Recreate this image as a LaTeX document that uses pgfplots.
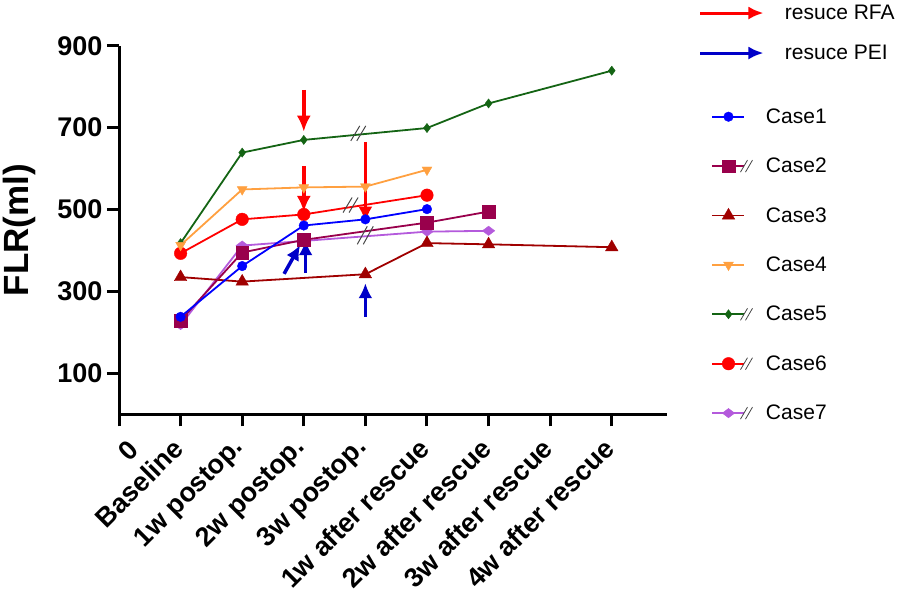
\documentclass[border=0pt]{standalone}
\usepackage{fontspec}
\setmainfont{Liberation Sans}
\usepackage{pgfplots}
\pgfplotsset{compat=1.18}
\usetikzlibrary{arrows.meta}

\definecolor{c1}{RGB}{0,0,255}
\definecolor{c2}{RGB}{153,0,76}
\definecolor{c3}{RGB}{160,0,0}
\definecolor{c4}{RGB}{255,160,64}
\definecolor{c5}{RGB}{20,100,20}
\definecolor{c6}{RGB}{255,0,0}
\definecolor{c7}{RGB}{180,90,220}
\definecolor{arrred}{RGB}{255,0,0}
\definecolor{arrblue}{RGB}{0,0,200}
\definecolor{brk}{RGB}{70,70,70}

\pgfplotsset{
  c1style/.style={color=c1, line width=1.8pt, mark=*, mark size=4.8pt, mark options={solid, fill=c1, line width=0.4pt}},
  c2style/.style={color=c2, line width=1.8pt, mark=square*, mark size=6.3pt, mark options={solid, fill=c2, line width=0.4pt}},
  c3style/.style={color=c3, line width=1.8pt, mark=triangle*, mark size=7.2pt, mark options={solid, fill=c3, line width=0.4pt}},
  c4style/.style={color=c4, line width=1.8pt, mark=triangle*, mark size=5.7pt, mark options={solid, fill=c4, rotate=180, line width=0.4pt}},
  c5style/.style={color=c5, line width=1.8pt, mark=diamond*, mark size=4.6pt, mark options={solid, fill=c5, line width=0.4pt}},
  c6style/.style={color=c6, line width=1.8pt, mark=*, mark size=6.3pt, mark options={solid, fill=c6, line width=0.4pt}},
  c7style/.style={color=c7, line width=1.8pt, mark=diamond*, mark size=6.2pt, mark options={solid, fill=c7, rotate=90, line width=0.4pt}},
  caseleg/.style={legend image code/.code={%
      \draw[mark repeat=2,mark phase=2,##1] plot coordinates {(12pt,0pt)(28pt,0pt)(44pt,0pt)};
      \path[draw=none, fill=none] (0pt,-24.7pt) rectangle (63pt,24.7pt);}},
  caselegb/.style={legend image code/.code={%
      \draw[mark repeat=2,mark phase=2,##1] plot coordinates {(12pt,0pt)(28pt,0pt)(44pt,0pt)};
      \draw[brk, line width=0.8pt, solid] (40pt,-6pt)--(47pt,6pt) (45pt,-6pt)--(52pt,6pt);
      \path[draw=none, fill=none] (0pt,-24.7pt) rectangle (63pt,24.7pt);}},
  legRFA/.style={legend image code/.code={%
      \draw[arrred, line width=3pt, -{Latex[length=15pt,width=13pt]}] (0pt,0pt)--(63pt,0pt);
      \path[draw=none, fill=none] (0pt,-20pt) rectangle (63pt,13pt);}},
  legPEI/.style={legend image code/.code={%
      \draw[arrblue, line width=3pt, -{Latex[length=15pt,width=13pt]}] (0pt,0pt)--(63pt,0pt);
      \path[draw=none, fill=none] (0pt,-39pt) rectangle (63pt,20pt);}},
}

\tikzset{
  redarr/.style={arrred, line width=3.5pt, -{Latex[length=16pt,width=14pt]}},
  bluearr/.style={arrblue, line width=3.5pt, -{Latex[length=15pt,width=14pt]}},
  brkmark/.style={brk, line width=1pt},
}

\begin{document}
\begin{tikzpicture}
\useasboundingbox (0,0) rectangle (897pt,598pt);
\begin{axis}[
  at={(119pt,183.7pt)}, anchor=south west,
  scale only axis, width=548.2pt, height=368.6pt,
  xmin=0, xmax=8.9, ymin=0, ymax=900,
  clip=false,
  axis x line*=bottom, axis y line*=left,
  axis line style={line width=3pt, black},
  tick align=outside,
  major tick length=12pt,
  every tick/.style={black, line width=3pt},
  /pgf/number format/assume math mode=true,
  ytick={100,300,500,700,900},
  yticklabel style={font=\bfseries\fontsize{27}{27}\selectfont, xshift=-1pt},
  xtick={1,2,3,4,5,6,7,8},
  xticklabels={Baseline,1w postop.,2w postop.,3w postop.,1w after rescue,2w after rescue,3w after rescue,4w after rescue},
  xticklabel style={font=\bfseries\fontsize{27}{27}\selectfont, rotate=45, anchor=east},
  xticklabel shift=15pt,
  extra x ticks={0},
  extra x tick labels={0},
  extra x tick style={xticklabel style={rotate=0, anchor=north}},
  ylabel={FLR(ml)},
  ylabel style={font=\bfseries\fontsize{35}{35}\selectfont, at={(axis description cs:-0.182,0.5)}, anchor=center},
  legend cell align=left,
  legend style={at={(axis description cs:1.058,1.124)}, anchor=north west,
    draw=none, fill=none, inner sep=0pt, outer sep=0pt, row sep=0pt,
    /tikz/every even column/.append style={column sep=0pt},
    nodes={inner sep=1pt},
    font=\fontsize{21}{21}\selectfont},
]
% legend entries
\addlegendimage{legRFA}
\addlegendentry{\hspace*{19pt}resuce RFA}
\addlegendimage{legPEI}
\addlegendentry{\hspace*{19pt}resuce PEI}
\addlegendimage{c1style, caseleg}
\addlegendentry{Case1}
\addlegendimage{c2style, caselegb}
\addlegendentry{Case2}
\addlegendimage{c3style, caseleg}
\addlegendentry{Case3}
\addlegendimage{c4style, caseleg}
\addlegendentry{Case4}
\addlegendimage{c5style, caselegb}
\addlegendentry{Case5}
\addlegendimage{c6style, caselegb}
\addlegendentry{Case6}
\addlegendimage{c7style, caselegb}
\addlegendentry{Case7}

% data (Case7 drawn first, Case1 on top)
\addplot[c7style, forget plot] coordinates {(1,218) (2,412) (5,446) (6,448)};
\addplot[c6style, forget plot] coordinates {(1,393) (2,476) (3,488) (5,535)};
\addplot[c5style, forget plot] coordinates {(1,418) (2,639) (3,670) (5,699) (6,759) (8,839)};
\addplot[c4style, forget plot] coordinates {(1,413) (2,549) (3,554) (4,556) (5,597)};
\addplot[c3style, forget plot] coordinates {(1,335) (2,324) (4,342) (5,418) (6,415) (8,408)};
\addplot[c2style, forget plot] coordinates {(1,229) (2,395) (3,426) (5,468) (6,495)};
\addplot[c1style, forget plot] coordinates {(1,238) (2,362) (3,461) (4,476) (5,501)};

% break marks
\draw[brkmark] (axis cs:3.885,686) ++(-7.5pt,-7.5pt) -- ++(9pt,15pt);
\draw[brkmark] (axis cs:3.885,686) ++(-1.5pt,-7.5pt) -- ++(9pt,15pt);
\draw[brkmark] (axis cs:3.76,511) ++(-7.5pt,-7.5pt) -- ++(9pt,15pt);
\draw[brkmark] (axis cs:3.76,511) ++(-1.5pt,-7.5pt) -- ++(9pt,15pt);
\draw[brkmark] (axis cs:3.99,437) ++(-7.5pt,-9pt) -- ++(10pt,18pt);
\draw[brkmark] (axis cs:3.99,437) ++(-1.5pt,-9pt) -- ++(10pt,18pt);

% rescue arrows
\draw[redarr] (axis cs:3,792) -- (axis cs:3,690);
\draw[redarr] (axis cs:3,606) -- (axis cs:3,494);
\draw[redarr] (axis cs:4,665) -- (axis cs:4,468);
\draw[bluearr] (axis cs:3.03,345) -- (axis cs:3.03,425);
\draw[bluearr] (axis cs:2.68,343) -- (axis cs:2.94,413);
\draw[bluearr] (axis cs:4,238) -- (axis cs:4,320);
\end{axis}
\end{tikzpicture}
\end{document}
